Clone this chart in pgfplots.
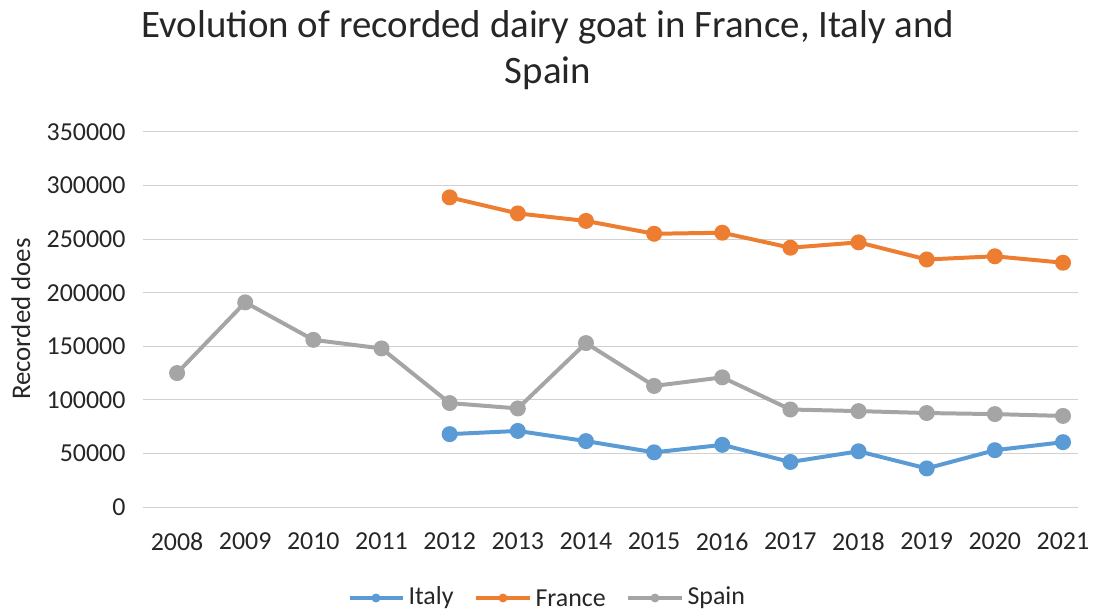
\documentclass[border=0pt]{standalone}
\usepackage{pgfplots}
\pgfplotsset{compat=1.18}
\usepackage{fontspec}
\setmainfont{Carlito}
\definecolor{cItaly}{HTML}{5B9BD5}
\definecolor{cFrance}{HTML}{ED7D31}
\definecolor{cSpain}{HTML}{A5A5A5}
\definecolor{cText}{HTML}{262626}
\begin{document}
\begin{tikzpicture}
\useasboundingbox (0,0) rectangle (1093bp,613bp);
\begin{axis}[
  at={(143bp,106bp)}, anchor=south west,
  scale only axis, width=935bp, height=375bp,
  xmin=2007.5, xmax=2021.22, ymin=0, ymax=350000,
  xtick={2008,...,2021},
  ytick={0,50000,...,350000},
  /pgf/number format/assume math mode=true,
  scaled y ticks=false,
  yticklabel={\pgfmathprintnumber[fixed,1000 sep={}]{\tick}},
  xticklabel={\pgfmathprintnumber[fixed,1000 sep={}]{\tick}},
  ymajorgrids, grid style={draw=black!18, line width=1pt},
  axis line style={draw=none},
  major tick length=0pt,
  tick label style={font=\fontsize{26}{30}\selectfont, text=cText},
  yticklabel style={xshift=-14bp},
  xticklabel style={yshift=-22bp},
  every axis plot/.append style={line width=4pt, mark=*, mark size=6pt},
]
\addplot[cItaly, mark options={fill=cItaly}] coordinates {
(2012,68000)(2013,71000)(2014,61500)(2015,51000)(2016,58000)(2017,42000)(2018,52000)(2019,36000)(2020,53000)(2021,60500)};
\addplot[cFrance, mark options={fill=cFrance}] coordinates {
(2012,289000)(2013,274000)(2014,267000)(2015,255000)(2016,256000)(2017,242000)(2018,247000)(2019,231000)(2020,234000)(2021,228000)};
\addplot[cSpain, mark options={fill=cSpain}] coordinates {
(2008,125000)(2009,191000)(2010,156000)(2011,148000)(2012,97000)(2013,92000)(2014,153000)(2015,113000)(2016,121000)(2017,91000)(2018,89500)(2019,87700)(2020,86700)(2021,85000)};
\end{axis}
\node[text=cText, font=\fontsize{39}{46}\selectfont, align=center] at (548bp,563bp) {Evolution of recorded dairy goat in France, Italy and\\Spain};
\node[text=cText, font=\fontsize{27}{30}\selectfont, rotate=90] at (21bp,294bp) {Recorded does};
% legend
\begin{scope}[font=\fontsize{26}{30}\selectfont, text=cText]
\draw[cItaly, line width=4pt] (350bp,15bp) -- (403bp,15bp);
\fill[cItaly] (376bp,15bp) circle (4.5pt);
\node[anchor=west] at (405bp,15bp) {Italy};
\draw[cFrance, line width=4pt] (476bp,15bp) -- (530bp,15bp);
\fill[cFrance] (503bp,15bp) circle (4.5pt);
\node[anchor=west] at (532bp,15bp) {France};
\draw[cSpain, line width=4pt] (628bp,15bp) -- (682bp,15bp);
\fill[cSpain] (655bp,15bp) circle (4.5pt);
\node[anchor=west] at (684bp,15bp) {Spain};
\end{scope}
\end{tikzpicture}
\end{document}
